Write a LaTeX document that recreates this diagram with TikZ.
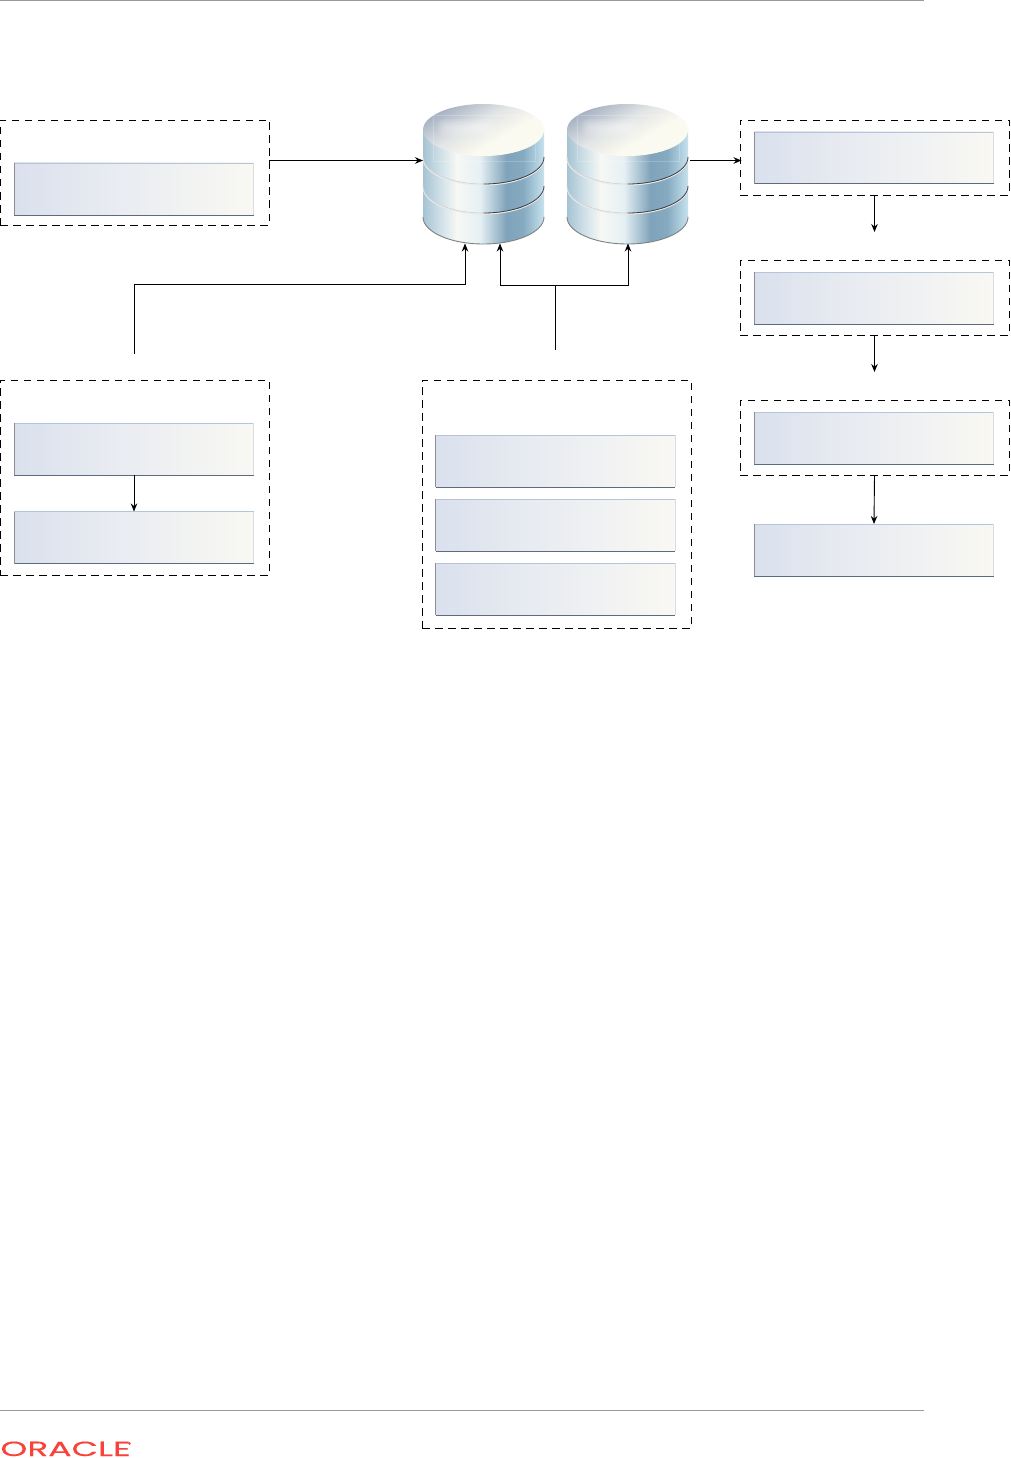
\documentclass[tikz,border=0pt]{standalone}
\usepackage{fontspec}
\usetikzlibrary{arrows.meta,calc}
\newfontfamily\logofont[FakeBold=0.25]{Poppins}
\definecolor{oraclered}{HTML}{F8433A}
\definecolor{panA}{HTML}{DAE1ED}\definecolor{panB}{HTML}{E8EBF1}\definecolor{panC}{HTML}{F9F8F3}
\definecolor{edgeTop}{HTML}{B7C5DC}\definecolor{edgeRight}{HTML}{D5DDEA}\definecolor{edgeBot}{HTML}{5C6B80}\definecolor{edgeLeft}{HTML}{8A8D96}
\definecolor{cyA}{HTML}{A6C3D3}\definecolor{cyB}{HTML}{C6DAE4}\definecolor{cyC}{HTML}{F6F8F4}
\definecolor{cyD}{HTML}{E6F0F4}\definecolor{cyE}{HTML}{7FA3BA}\definecolor{cyF}{HTML}{86ABC1}\definecolor{cyG}{HTML}{C8E2EE}
\definecolor{lidA}{HTML}{A9B4C4}\definecolor{lidB}{HTML}{E2E5E6}\definecolor{lidC}{HTML}{FBFAF0}
\pgfdeclarehorizontalshading{panelgrad}{100bp}{
  color(0bp)=(panA); color(25bp)=(panA); color(45bp)=(panB); color(75bp)=(panC); color(100bp)=(panC)}
\pgfdeclarehorizontalshading{cylgrad}{100bp}{
  color(0bp)=(cyA); color(25bp)=(cyA); color(30.5bp)=(cyB); color(39bp)=(cyC); color(48.5bp)=(cyD);
  color(59.5bp)=(cyE); color(66.5bp)=(cyF); color(75bp)=(cyG); color(100bp)=(cyG)}
\pgfdeclareverticalshading{lidgrad}{100bp}{
  color(0bp)=(lidC); color(25bp)=(lidC); color(40bp)=(lidC); color(56bp)=(lidB); color(74bp)=(lidA); color(100bp)=(lidA)}
\tikzset{
  x=1pt,y=-1pt,
  group/.style={draw=black,line width=.9pt,dash pattern=on 7.5pt off 5.5pt,fill=none,inner sep=0pt,outer sep=0pt},
  panel/.style={shade,shading=panelgrad,draw=none,inner sep=0pt,outer sep=0pt,minimum width=239.5pt,minimum height=52pt},
  link/.style={draw=black,line width=.9pt},
  head/.style={link,-{Stealth[length=8pt,width=6.5pt]}},
  pageline/.style={draw=black!40,line width=1pt},
  cylspot/.style={inner sep=0pt,outer sep=0pt,minimum width=122pt,minimum height=140pt},
}
% panel: name, centre x, centre y
\newcommand{\panelbox}[3]{%
  \node[panel] (#1) at (#2,#3) {};
  \draw[draw=edgeTop,line width=.8pt] (#1.north west) -- (#1.north east);
  \draw[draw=edgeRight,line width=.8pt] (#1.north east) -- (#1.south east);
  \draw[draw=edgeBot,line width=1pt] (#1.south west) -- (#1.south east);
  \draw[draw=edgeLeft,line width=1pt] (#1.south west) -- (#1.north west);
}
% cylinder: name, left x
\newcommand{\dbcyl}[2]{%
  \node[cylspot] (#1) at (#2+61,174) {};
  \shade[shading=cylgrad] (#2,130) -- (#2,217) arc[start angle=180,end angle=0,x radius=60.5,y radius=27] -- (#2+121,130) -- cycle;
  \draw[black!50,line width=.9pt] (#2,217) arc[start angle=180,end angle=0,x radius=60.5,y radius=27];
  \foreach \yy in {157,186}{
    \draw[white!92!black,line width=1.1pt] (#2,\yy+1) arc[start angle=180,end angle=0,x radius=60.5,y radius=27];
    \draw[black!18,line width=.6pt] (#2,\yy) arc[start angle=180,end angle=90,x radius=60.5,y radius=27];
    \draw[black!75,line width=.8pt] (#2+60.5,\yy+27) arc[start angle=90,end angle=0,x radius=60.5,y radius=27];
  }
  \shade[shading=lidgrad,shading angle=30] (#2+60.5,130) ellipse[x radius=60.5,y radius=26];
  \draw[white,opacity=.2,line width=.7pt] (#2+10,115) rectangle (#2+112,161);
  \foreach \ii in {0,1,2,3}{
    \fill[white,opacity=.1,rounded corners=6pt] (#2+15+\ii*2,119+\ii*2) rectangle (#2+72-\ii*2,136-\ii*2);
  }
}
\begin{document}
\begin{tikzpicture}
\useasboundingbox (0,0) rectangle (1010,1458);
\fill[white] (0,0) rectangle (1010,1458);

% page furniture
\coordinate (topL) at (0,0.5); \coordinate (topR) at (924,0.5);
\coordinate (footL) at (0,1410); \coordinate (footR) at (924,1410);
\draw[pageline] (topL) -- (topR);
\draw[pageline] (footL) -- (footR);
\node[anchor=base west,inner sep=0pt,text=oraclered,font=\logofont\fontsize{20.5}{20.5}\selectfont,xscale=1.68] (logo) at (0,1456) {ORACLE};
\fill[oraclered] (129.5,1443.5) circle[radius=1.3];

% dashed groups
\node[group,minimum width=269pt,minimum height=105pt] (gA) at (134.5,172.5) {};
\node[group,minimum width=269pt,minimum height=195pt] (gB) at (134.5,477.5) {};
\node[group,minimum width=269pt,minimum height=248pt] (gC) at (556.5,504) {};
\node[group,minimum width=269pt,minimum height=75pt] (gD) at (874.5,157.5) {};
\node[group,minimum width=269pt,minimum height=75pt] (gE) at (874.5,297.5) {};
\node[group,minimum width=269pt,minimum height=75pt] (gF) at (874.5,437.5) {};

% panels
\panelbox{pA}{134}{189}
\panelbox{pB}{134}{449}
\panelbox{pC}{134}{537.5}
\panelbox{pD}{555.5}{461}
\panelbox{pE}{555.5}{525}
\panelbox{pF}{555.5}{589}
\panelbox{pG}{874}{158}
\panelbox{pH}{874}{298}
\panelbox{pI}{874}{438}
\panelbox{pJ}{874}{550}

% databases
\dbcyl{dbA}{423}
\dbcyl{dbB}{567}

% connectors
\path (gA.east |- 0,160.5) coordinate (aS);
\path (dbA.west |- 0,160.5) coordinate (aT);
\draw[head] (aS) -- (aT);
\path (dbB.east |- 0,160.5) coordinate (bS);
\path (gD.west |- 0,160.5) coordinate (bT);
\draw[link] (bS) ++(1,0) -- (bT);
\draw[head] ($(bT)+(-7,0)$) -- ($(bT)+(1.5,0)$);
\coordinate (dn1) at (874.5,232);
\coordinate (dn2) at (874.5,372);
\draw[head] (gD.south) -- (dn1);
\draw[head] (gE.south) -- (dn2);
\draw[head] (gF.south) -- (pJ.north);
\draw[head] (pB.south) -- (pC.north);
\coordinate (upB) at (134.5,354);
\coordinate (upC) at (555.5,350);
\coordinate (jn) at (555.5,285);
\coordinate (tA) at (465,243.5);
\coordinate (tB) at (500,243.5);
\coordinate (tC) at (628,243.5);
\draw[head] (upB) |- (465,284) -- (tA);
\draw[link] (upC) -- (jn);
\draw[head] (jn) -| (tB);
\draw[head] (jn) -| (tC);
\end{tikzpicture}
\end{document}
